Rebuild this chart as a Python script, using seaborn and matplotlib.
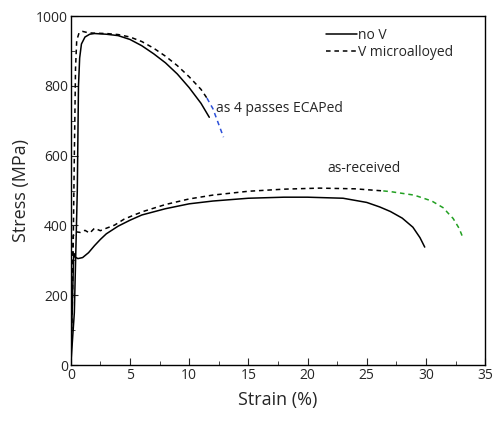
import pandas as pd
import matplotlib
matplotlib.use('Agg')
import matplotlib.pyplot as plt
import seaborn as sns

# stress-strain curves (strain in %, stress in MPa)
ecap_nov_x = [0, 0.3, 0.55, 0.65, 0.75, 0.9, 1.2, 1.6, 2.0, 3.0, 4.0, 5.0, 6.0, 7.0, 8.0, 9.0, 10.0, 11.0, 11.7]
ecap_nov_y = [0, 150, 500, 800, 880, 920, 940, 948, 950, 948, 944, 933, 915, 892, 866, 834, 795, 750, 710]

ecap_v_x = [0, 0.15, 0.3, 0.4, 0.5, 0.7, 1.0, 1.5, 2.0, 3.0, 4.0, 5.0, 6.0, 7.0, 8.0, 9.0, 10.0, 11.0, 11.5, 12.0, 12.9]
ecap_v_y = [0, 200, 600, 850, 930, 952, 956, 952, 951, 950, 947, 940, 927, 908, 885, 858, 826, 790, 765, 735, 653]

asrec_nov_x = [0, 0.15, 0.25, 0.35, 0.6, 1.0, 1.5, 2.0, 2.5, 3.0, 4.0, 5.0, 6.0, 8.0, 10.0, 12.0, 15.0,
               18.0, 20.0, 23.0, 25.0, 26.1, 27.0, 28.0, 28.9, 29.5, 29.9]
asrec_nov_y = [0, 200, 320, 310, 305, 308, 322, 342, 360, 376, 398, 415, 430, 448, 462, 470, 478,
               481, 481, 478, 466, 453, 440, 421, 395, 365, 338]

asrec_v_x = [0, 0.1, 0.2, 0.4, 0.8, 1.2, 1.6, 2.0, 2.5, 3.0, 3.7, 4.5, 5.5, 6.2, 8.0, 10.0, 12.0, 15.0,
             18.0, 21.0, 24.0, 26.4, 27.0, 29.0, 29.8, 30.5, 31.5, 31.8, 32.3, 32.8, 33.1]
asrec_v_y = [0, 250, 370, 382, 380, 386, 378, 392, 385, 392, 401, 418, 432, 441, 460, 476, 487, 498,
             504, 507, 505, 499, 497, 487, 478, 470, 450, 438, 420, 392, 367]

sns.set_style('ticks')
plt.rcParams['font.family'] = ['Open Sans', 'DejaVu Sans']

fig, ax = plt.subplots(figsize=(4.95, 4.23), dpi=100)
fig.subplots_adjust(left=0.143, right=0.98, bottom=0.137, top=0.962)


def draw(x, y, color, ls, split=None, tail_color=None, label=None):
    df = pd.DataFrame({'strain': x, 'stress': y})
    if split is None:
        sns.lineplot(data=df, x='strain', y='stress', color=color, linestyle=ls, lw=1.1,
                     sort=False, estimator=None, ax=ax, label=label)
    else:
        head = df[df['strain'] <= split]
        tail = df[df['strain'] >= split]
        sns.lineplot(data=head, x='strain', y='stress', color=color, linestyle=ls, lw=1.1,
                     sort=False, estimator=None, ax=ax, label=label)
        sns.lineplot(data=tail, x='strain', y='stress', color=tail_color, linestyle=ls, lw=1.1,
                     sort=False, estimator=None, ax=ax)


draw(ecap_nov_x, ecap_nov_y, 'black', '-', label='no V')
draw(ecap_v_x, ecap_v_y, 'black', (0, (3, 2.5)), split=11.5, tail_color='#2b4fd8', label='V microalloyed')
draw(asrec_nov_x, asrec_nov_y, 'black', '-')
draw(asrec_v_x, asrec_v_y, 'black', (0, (3, 2.5)), split=26.4, tail_color='#22a022')

ax.set_xlim(0, 35)
ax.set_ylim(0, 1000)
ax.set_xticks([0, 5, 10, 15, 20, 25, 30, 35])
ax.set_xticks([2.5, 7.5, 12.5, 17.5, 22.5, 27.5, 32.5], minor=True)
ax.set_yticks([0, 200, 400, 600, 800, 1000])
ax.set_yticks([100, 300, 500, 700, 900], minor=True)
ax.tick_params(which='both', direction='in', top=False, right=False, labelsize=10, pad=2)
ax.tick_params(which='major', length=5)
ax.tick_params(which='minor', length=3)
for s in ax.spines.values():
    s.set_linewidth(1.0)
    s.set_color('black')

ax.set_xlabel('Strain (%)', fontsize=13, labelpad=6)
ax.set_ylabel('Stress (MPa)', fontsize=13, labelpad=4)

ax.text(12.3, 736, 'as 4 passes ECAPed', fontsize=10, va='center')
ax.text(21.7, 564, 'as-received', fontsize=10, va='center')

ax.legend(loc='upper left', bbox_to_anchor=(0.6, 0.985), frameon=False, fontsize=10,
          handlelength=2.2, handletextpad=0.1, labelspacing=0.1, borderpad=0)

fig.savefig('out.png', dpi=100)
